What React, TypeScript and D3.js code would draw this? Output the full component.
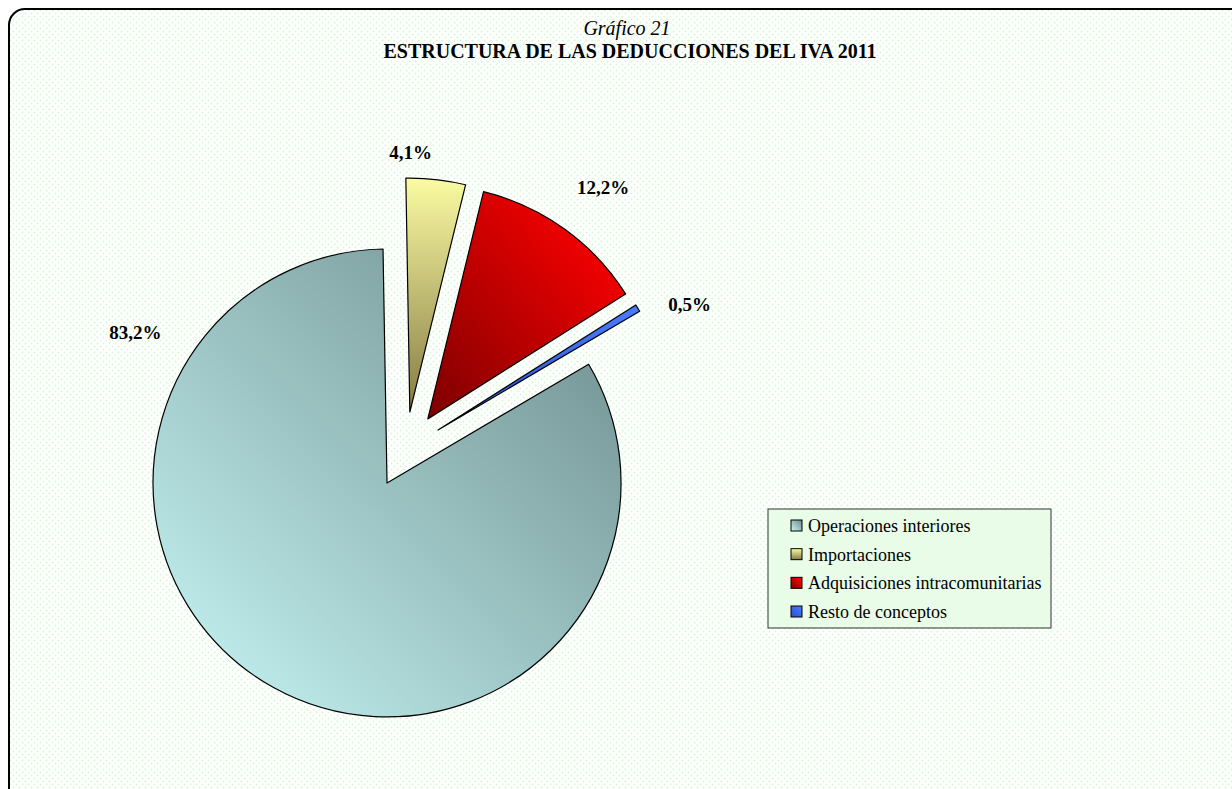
import React from "react";
import * as d3 from "d3";

const categories = [
  "Operaciones interiores",
  "Importaciones",
  "Adquisiciones intracomunitarias",
  "Resto de conceptos",
];
const values = [83.2, 4.1, 12.2, 0.5];
const valueLabels = ["83,2%", "4,1%", "12,2%", "0,5%"];
const titleLine1 = "Gráfico 21";
const titleLine2 = "ESTRUCTURA DE LAS DEDUCCIONES DEL IVA 2011";

// styling / layout (not data)
const gradStops: [string, string][] = [
  ["#c9f8f8", "#6b8989"],
  ["#fbfba2", "#847a44"],
  ["#f20000", "#7c0000"],
  ["#4a7cff", "#2a50d0"],
];
const labelPolar = [
  { ang: 300.8, r: 293 },
  { ang: 0.2, r: 259 },
  { ang: 37.2, r: 290 },
  { ang: 63.5, r: 281 },
];

const W = 1232;
const H = 789;
const cx = 405.6;
const cy = 449.8;
const R = 234;
const EXPLODE = 38;
const START = (59.5 * Math.PI) / 180;

export default function App() {
  const pie = d3
    .pie<number>()
    .sort(null)
    .startAngle(START)
    .endAngle(START + 2 * Math.PI)
    .value((d) => d);
  const arcs = pie(values);
  const arcGen = d3.arc<d3.PieArcDatum<number>>().innerRadius(0).outerRadius(R);

  const legendX = 768;
  const legendY = 509;
  const legendW = 283;
  const legendH = 119;
  const rowY = d3.scalePoint<string>().domain(categories).range([526, 612]);

  return (
    <svg
      width={W}
      height={H}
      style={{ position: "absolute", left: 0, top: 0, fontFamily: "'Liberation Serif', 'Times New Roman', serif" }}
    >
      <defs>
        <pattern id="dots" width="6" height="6" patternUnits="userSpaceOnUse">
          <rect width="6" height="6" fill="#ffffff" />
          <circle cx="1.5" cy="1.5" r="1" fill="#d6f8d6" />
          <circle cx="4.5" cy="4.5" r="1" fill="#d6f8d6" />
        </pattern>
        <linearGradient id="g0" x1="0" y1="1" x2="1" y2="0">
          <stop offset="0" stopColor={gradStops[0][0]} />
          <stop offset="1" stopColor={gradStops[0][1]} />
        </linearGradient>
        <linearGradient id="g1" x1="0" y1="0" x2="0" y2="1">
          <stop offset="0" stopColor={gradStops[1][0]} />
          <stop offset="1" stopColor={gradStops[1][1]} />
        </linearGradient>
        <linearGradient id="g2" x1="1" y1="0" x2="0" y2="1">
          <stop offset="0.2" stopColor={gradStops[2][0]} />
          <stop offset="1" stopColor={gradStops[2][1]} />
        </linearGradient>
        <linearGradient id="g3" x1="1" y1="0" x2="0" y2="1">
          <stop offset="0" stopColor={gradStops[3][0]} />
          <stop offset="1" stopColor={gradStops[3][1]} />
        </linearGradient>
      </defs>
      <rect x={9} y={9} width={1250} height={800} rx={16} ry={16} fill="url(#dots)" stroke="#000" strokeWidth={2} />

      <text x={627} y={35} textAnchor="middle" fontSize={20} fontStyle="italic">
        {titleLine1}
      </text>
      <text x={630} y={58} textAnchor="middle" fontSize={20} fontWeight="bold">
        {titleLine2}
      </text>

      {arcs.map((a, i) => {
        const mid = (a.startAngle + a.endAngle) / 2;
        const ox = cx + EXPLODE * Math.sin(mid);
        const oy = cy - EXPLODE * Math.cos(mid);
        const lp = labelPolar[i];
        const la = (lp.ang * Math.PI) / 180;
        const lx = ox + lp.r * Math.sin(la);
        const ly = oy - lp.r * Math.cos(la);
        return (
          <g key={categories[i]}>
            <path
              d={arcGen(a) || ""}
              transform={`translate(${ox},${oy})`}
              fill={`url(#g${i})`}
              stroke="#000"
              strokeWidth={1.2}
              strokeLinejoin="round"
            />
            <text x={lx} y={ly + 6} textAnchor="middle" fontSize={19} fontWeight="bold">
              {valueLabels[i]}
            </text>
          </g>
        );
      })}

      <rect x={legendX} y={legendY} width={legendW} height={legendH} fill="#e8fce8" stroke="#333" strokeWidth={1} />
      {categories.map((c, i) => {
        const y = rowY(c) as number;
        return (
          <g key={c}>
            <rect x={791} y={y - 6} width={11} height={11} fill={`url(#g${i})`} stroke="#000" strokeWidth={1} />
            <text x={808} y={y + 6} fontSize={18}>
              {c}
            </text>
          </g>
        );
      })}
    </svg>
  );
}
